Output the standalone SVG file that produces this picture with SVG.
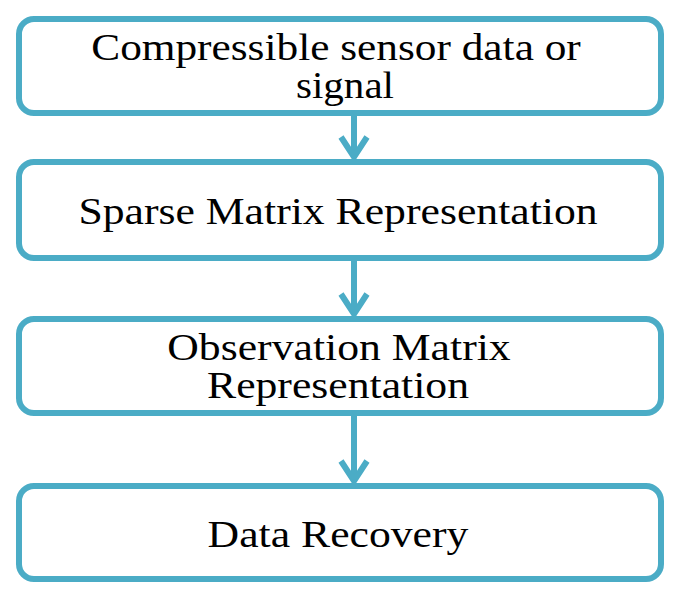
<svg xmlns="http://www.w3.org/2000/svg" width="680" height="597" viewBox="0 0 680 597">
<style>
.box{fill:#ffffff;stroke:#4bacc6;stroke-width:6}
.lbl{font-family:"Liberation Serif","Times New Roman",serif;font-size:38px;fill:#000000;text-anchor:middle}
.con{fill:none;stroke:#4bacc6;stroke-width:6;stroke-linejoin:miter;stroke-linecap:butt}
</style>
<rect width="680" height="597" fill="#ffffff"/>
<g id="connectors">
<path class="con" d="M354 113 V157"/>
<path class="con" d="M341 137 L354 157 L367 137"/>
<path class="con" d="M354 258 V314"/>
<path class="con" d="M341 294 L354 314 L367 294"/>
<path class="con" d="M354 413 V481"/>
<path class="con" d="M341 461 L354 481 L367 461"/>
</g>
<g id="node1">
<rect class="box" x="19" y="19" width="642" height="94" rx="15"/>
<text class="lbl" transform="translate(336,60) scale(1.14,1)">Compressible sensor data or</text>
<text class="lbl" transform="translate(345,98) scale(1.08,1)">signal</text>
</g>
<g id="node2">
<rect class="box" x="19" y="162" width="642" height="96" rx="15"/>
<text class="lbl" transform="translate(338,224) scale(1.15,1)">Sparse Matrix Representation</text>
</g>
<g id="node3">
<rect class="box" x="19" y="319" width="642" height="94" rx="15"/>
<text class="lbl" transform="translate(339,360) scale(1.15,1)">Observation Matrix</text>
<text class="lbl" transform="translate(338,398) scale(1.15,1)">Representation</text>
</g>
<g id="node4">
<rect class="box" x="19" y="486" width="642" height="93" rx="15"/>
<text class="lbl" transform="translate(338,547) scale(1.15,1)">Data Recovery</text>
</g>
</svg>
